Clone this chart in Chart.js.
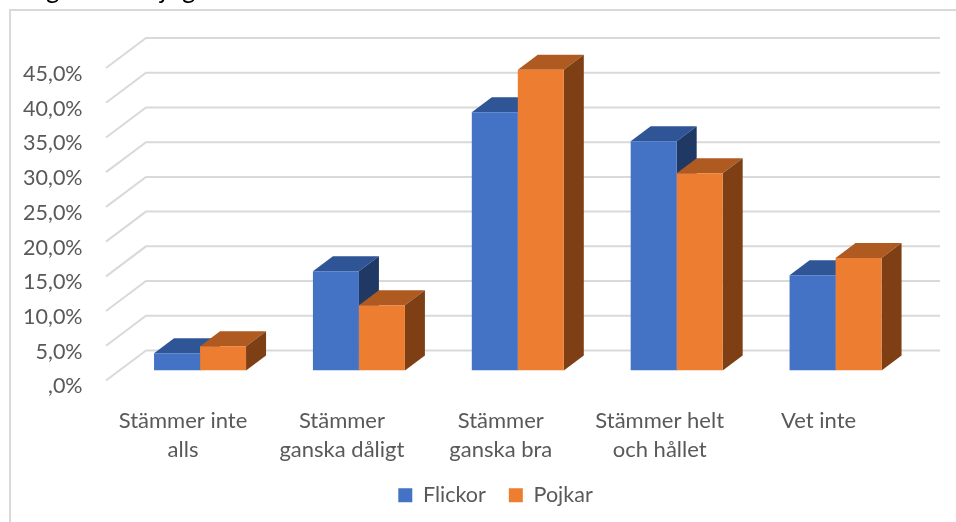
<!doctype html>
<html lang="sv">
  <head>
    <meta charset="utf-8">
    <title>Stämmer inte alls - Vet inte</title>
    <style>
      * {
        margin: 0;
        padding: 0;
      }
      body {
        background: white;
      }
      .chartBox {
        width: 956px;
        height: 522px;
      }
    </style>
  </head>
  <body>
    <div class="chartBox">
      <canvas id="myChart"></canvas>
    </div>
    <script src="https://cdn.jsdelivr.net/npm/chart.js"></script>
    <script>
    const categories = [['Stämmer inte', 'alls'], ['Stämmer', 'ganska dåligt'], ['Stämmer', 'ganska bra'], ['Stämmer helt', 'och hållet'], 'Vet inte'];
    const flickor = [2.5, 14.3, 37.2, 33.0, 13.7];
    const pojkar = [3.5, 9.4, 43.3, 28.4, 16.2];
    const colours = ['#4472C4', '#ED7D31'];
    const topColours = ['#2F5597', '#AE5A21'];
    const sideColours = ['#1F3864', '#7F3F14'];
    const textColour = '#595959';
    const gridColour = '#D9D9D9';

    function polygon(ctx, points, colour) {
      ctx.fillStyle = colour;
      ctx.beginPath();
      points.forEach((p, i) => i ? ctx.lineTo(p[0], p[1]) : ctx.moveTo(p[0], p[1]));
      ctx.closePath();
      ctx.fill();
    }

    // frame, cut off heading and the 3d walls behind the bars
    const backdrop = {
      id: 'backdrop',
      afterLayout(chart) {
        // legend sits centred under the floor, not under the whole box
        chart.legend.left += 35.5;
        chart.legend.right += 35.5;
      },
      beforeDatasetsDraw(chart) {
        const { ctx, scales: { y } } = chart;
        ctx.save();

        ctx.strokeStyle = gridColour;
        ctx.lineWidth = 2;
        ctx.beginPath();
        ctx.moveTo(10, 522);
        ctx.lineTo(10, 10);
        ctx.lineTo(956, 10);
        ctx.stroke();

        ctx.fillStyle = '#000';
        ctx.font = '26px Lato';
        ctx.textAlign = 'left';
        ctx.textBaseline = 'alphabetic';
        ctx.fillText('g', 46, -2);
        ctx.fillText('j', 160, -2);
        ctx.fillText('g', 182, -2);

        // wall is 20px behind the bar front, floor edge 10px in front of it
        y.ticks.forEach((tick) => {
          const py = y.getPixelForValue(tick.value);
          ctx.beginPath();
          ctx.moveTo(106, py + 10);
          ctx.lineTo(146, py - 20);
          ctx.lineTo(940, py - 20);
          ctx.stroke();
        });

        // top and side faces of each bar
        chart.data.datasets.forEach((dataset, d) => {
          chart.getDatasetMeta(d).data.forEach((bar) => {
            const left = bar.x - bar.width / 2;
            const right = bar.x + bar.width / 2;
            polygon(ctx, [[left, bar.y], [left + 20, bar.y - 15], [right + 20, bar.y - 15], [right, bar.y]], topColours[d]);
            polygon(ctx, [[right, bar.y], [right + 20, bar.y - 15], [right + 20, bar.base - 15], [right, bar.base]], sideColours[d]);
          });
        });
        ctx.restore();
      }
    };

    const config = {
      type: 'bar',
      data: {
        labels: categories,
        datasets: [
          { label: 'Flickor', data: flickor, backgroundColor: colours[0] },
          { label: 'Pojkar', data: pojkar, backgroundColor: colours[1] }
        ]
      },
      options: {
        responsive: true,
        maintainAspectRatio: false,
        animation: false,
        barPercentage: 1,
        categoryPercentage: 0.579,
        layout: {
          padding: { left: 5, right: 41, top: 58, bottom: 6 }
        },
        scales: {
          x: {
            grid: { display: false },
            border: { display: false },
            afterFit: (axis) => { axis.height = 91; },
            ticks: {
              color: textColour,
              font: { family: 'Lato', size: 22, lineHeight: 1.32 },
              maxRotation: 0,
              autoSkip: false,
              labelOffset: -17,
              padding: 28
            }
          },
          y: {
            min: 0,
            max: 45,
            grid: { display: false },
            border: { display: false },
            afterFit: (axis) => { axis.width = 115.6; },
            ticks: {
              stepSize: 5,
              color: textColour,
              font: { family: 'Lato', size: 21.5 },
              labelOffset: 16,
              padding: 30,
              callback: (v) => v === 0 ? ',0%' : v.toFixed(1).replace('.', ',') + '%'
            }
          }
        },
        plugins: {
          tooltip: { enabled: false },
          legend: {
            position: 'bottom',
            labels: {
              color: textColour,
              font: { family: 'Lato', size: 21.5 },
              boxWidth: 14,
              boxHeight: 14,
              padding: 23
            }
          }
        }
      },
      plugins: [backdrop]
    };

    const myChart = new Chart(document.getElementById('myChart'), config);
    </script>
  </body>
</html>
